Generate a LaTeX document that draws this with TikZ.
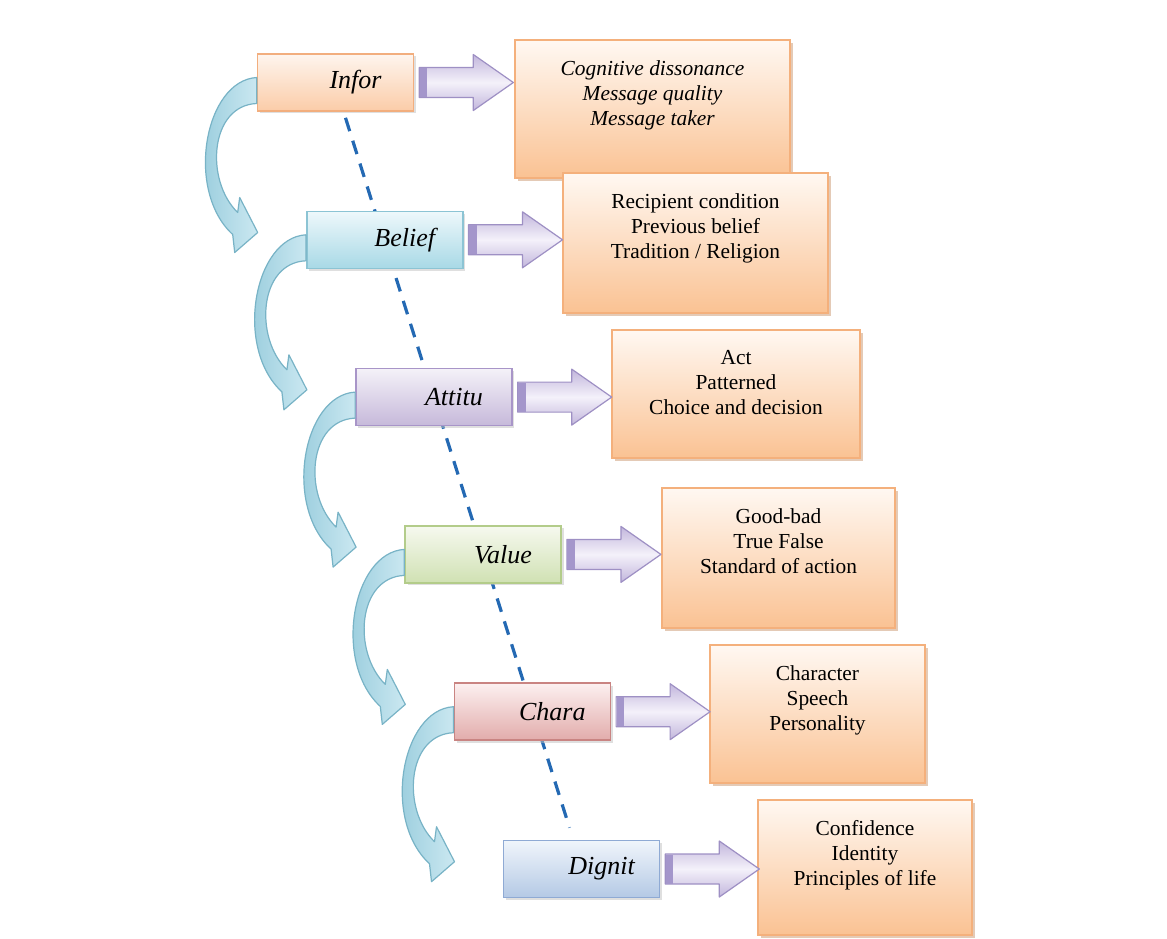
\documentclass[tikz,border=0pt]{standalone}
\usepackage{fontspec}
\setmainfont{Liberation Serif}
\usetikzlibrary{calc,shadows,backgrounds}

\definecolor{inforhi}{HTML}{FEF5EE}  \definecolor{inforlo}{HTML}{FBCCA8}  \definecolor{inforline}{HTML}{F2AE7E}
\definecolor{beliefhi}{HTML}{EEF8FB} \definecolor{belieflo}{HTML}{A8D9E6} \definecolor{beliefline}{HTML}{8CC4D4}
\definecolor{attituhi}{HTML}{F4F1F8} \definecolor{attitulo}{HTML}{C6B9DA} \definecolor{attituline}{HTML}{A895C8}
\definecolor{valuehi}{HTML}{F6F9EF}  \definecolor{valuelo}{HTML}{D0E1B3}  \definecolor{valueline}{HTML}{B3CC8A}
\definecolor{charahi}{HTML}{FCF0F0}  \definecolor{charalo}{HTML}{E2ACAB}  \definecolor{charaline}{HTML}{C98482}
\definecolor{dignithi}{HTML}{F0F5FB} \definecolor{dignitlo}{HTML}{B4C9E5} \definecolor{dignitline}{HTML}{8FAAD4}
\definecolor{detailhi}{HTML}{FFF8F2} \definecolor{detaillo}{HTML}{FAC293} \definecolor{detailline}{HTML}{F4B07C}
\definecolor{detailshadow}{HTML}{C9966E}
\definecolor{arrowhi}{HTML}{F4F1FA} \definecolor{arrowlo}{HTML}{C2B6DC} \definecolor{arrowline}{HTML}{9E90C4}
\definecolor{arrowband}{HTML}{A496CB}
\definecolor{turnhi}{HTML}{CBE8F1} \definecolor{turnlo}{HTML}{8DC6D8} \definecolor{turnline}{HTML}{78B3C6}
\definecolor{linkblue}{HTML}{2469B3}

\tikzset
{
  stage/.style={draw=#1line,line width=0.8pt,top color=#1hi,bottom color=#1lo,
    minimum width=78pt,minimum height=28.5pt,inner sep=0pt,
    font=\fontsize{13}{15}\selectfont\itshape,
    drop shadow={shadow xshift=1.2pt,shadow yshift=-1.2pt,fill=gray!50}},
  detail/.style={draw=detailline,line width=0.8pt,top color=detailhi,bottom color=detaillo,inner sep=0pt,
    drop shadow={shadow xshift=1.5pt,shadow yshift=-1.5pt,fill=detailshadow}},
  detail text/.style={anchor=north,align=center,inner sep=0pt,font=\fontsize{10.7}{12.5}\selectfont},
  block arrow/.style={draw=arrowline,line width=0.6pt,line join=round,
    top color=arrowlo,bottom color=arrowlo,middle color=arrowhi},
  turn arrow/.style={draw=turnline,line width=0.6pt,line join=round,left color=turnlo,right color=turnhi},
  link/.style={draw=linkblue,line width=1.6pt,dash pattern=on 7pt off 5pt}
}

\begin{document}
\begin{tikzpicture}[x=0.5pt,y=-0.5pt]
  \useasboundingbox (0,0) rectangle (1167,938);
  % stages
  \foreach \n/\lab [count=\i from 0] in {infor/Infor,belief/Belief,attitu/Attitu,value/Value,chara/Chara,dignit/Dignit}
    \node[stage=\n] (\n) at ({335.5+49.2*\i},{82.5+157.3*\i}) {\hspace*{20pt}\lab};
  % details
  \foreach \k/\cx/\cy/\w/\h in {1/652.5/109/137.5pt/69pt,2/695.5/243/132.5pt/70pt,3/736/394/124pt/64pt,
                                4/778.5/558/116.5pt/70pt,5/817.5/714/107.5pt/69pt,6/865/867.5/107pt/67.5pt}
    \node[detail,minimum width=\w,minimum height=\h] (det\k) at (\cx,\cy) {};
  \node[detail text,font=\fontsize{10.7}{12.5}\selectfont\itshape] (txt1) at ($(det1.north)+(0,21)$)
    {Cognitive dissonance\\Message quality\\Message taker};
  \node[detail text] (txt2) at ($(det2.north)+(0,21)$) {Recipient condition\\Previous belief\\Tradition / Religion};
  \node[detail text] (txt3) at ($(det3.north)+(0,21)$) {Act\\Patterned\\Choice and decision};
  \node[detail text] (txt4) at ($(det4.north)+(0,21)$) {Good-bad\\True False\\Standard of action};
  \node[detail text] (txt5) at ($(det5.north)+(0,21)$) {Character\\Speech\\Personality};
  \node[detail text] (txt6) at ($(det6.north)+(0,21)$) {Confidence\\Identity\\Principles of life};
  % dashed line behind the stages
  \begin{scope}[on background layer]
    \draw[link] ($(infor.south)+(10,6)$) -- ($(dignit.north)+(-12,-12)$);
  \end{scope}
  % block arrows to the details
  \foreach \n in {infor,belief,attitu,value,chara,dignit}
  {
    \begin{scope}[shift={(\n.east)}]
      \path[block arrow] (5,-15) -- (59,-15) -- (59,-28) -- (99,0) -- (59,28) -- (59,15) -- (5,15) -- cycle;
      \fill[arrowband] (5.5,-14.5) rectangle (13,14.5);
    \end{scope}
  }
  % curved arrows down to the next stage
  \foreach \n in {infor,belief,attitu,value,chara}
  {
    \begin{scope}[shift={(\n.west)}]
      \path[turn arrow] (0,-5) .. controls (-52,-2) and (-72,108) .. (-24,152) -- (-22,170) -- (1,150)
        -- (-17,115) -- (-19,130) .. controls (-52,98) and (-47,23) .. (0,21) -- cycle;
    \end{scope}
  }
\end{tikzpicture}
\end{document}
